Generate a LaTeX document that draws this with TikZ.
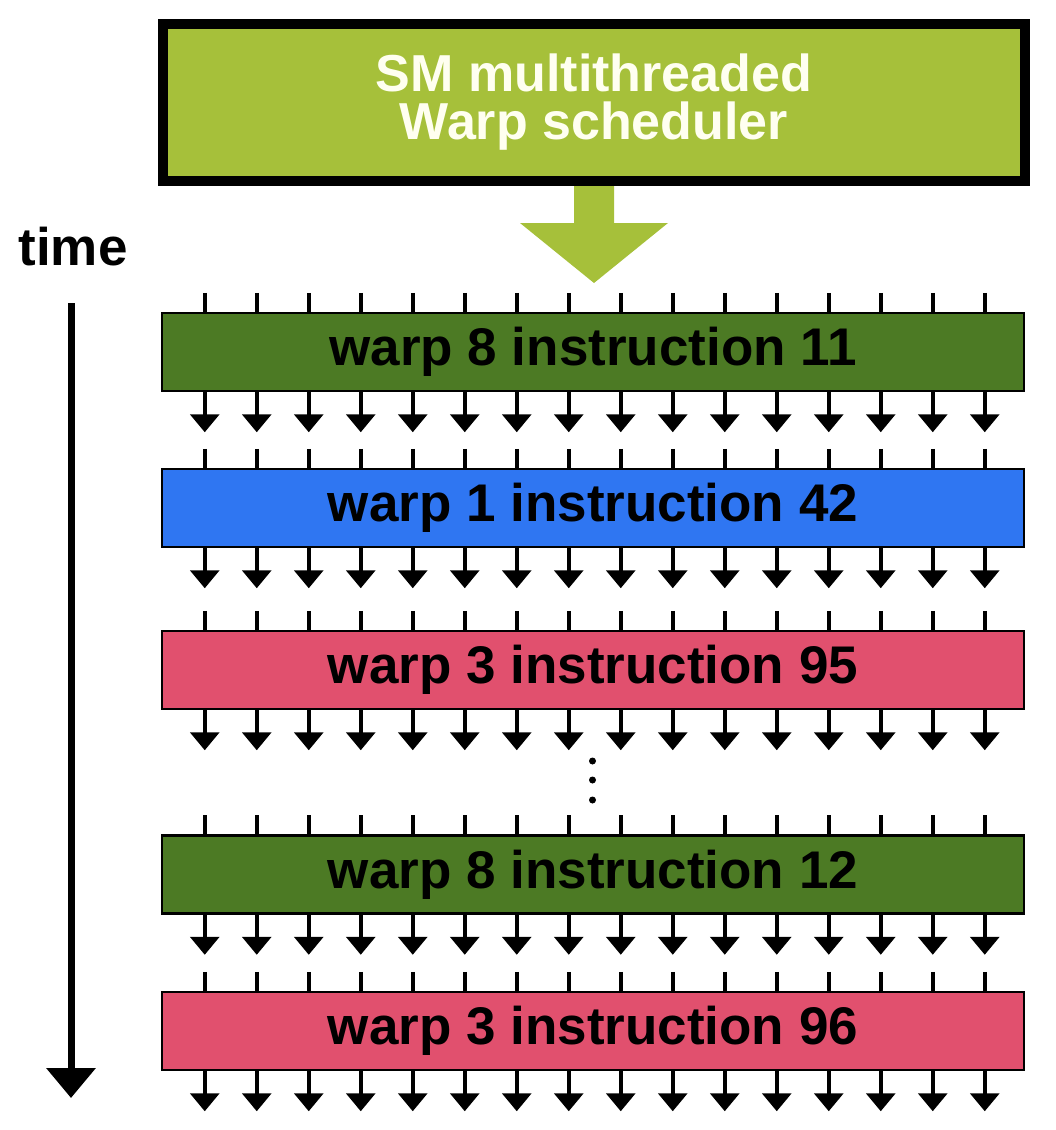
\documentclass[tikz,border=0pt]{standalone}
\usepackage{fontspec}
\setmainfont{Liberation Sans}
\usetikzlibrary{arrows.meta,calc}
\definecolor{topgreen}{RGB}{166,192,58}
\definecolor{dkgreen}{RGB}{76,122,36}
\definecolor{barblue}{RGB}{47,118,242}
\definecolor{barpink}{RGB}{225,80,110}
\definecolor{cream}{RGB}{255,255,240}
\begin{document}
\begin{tikzpicture}[x=1pt,y=-1pt,
  bar/.style={draw=black, line width=2.5pt, minimum width=862pt, minimum height=78pt, inner sep=0pt, font=\fontsize{53}{53}\selectfont\bfseries, text=black},
  tickln/.style={line width=3.5pt},
  tickarr/.style={line width=3.5pt, -{Triangle[width=29pt,length=18pt]}},
  dotnode/.style={circle, fill=black, inner sep=0pt, minimum size=7pt},
]
\useasboundingbox (0,0) rectangle (1056,1130);
\node[draw=black, line width=10pt, fill=topgreen, minimum width=862pt, minimum height=157pt, align=center, text=cream, font=\fontsize{52}{48}\selectfont\bfseries] (top) at (594,102.5) {SM multithreaded\\Warp scheduler};
% block arrow
\fill[topgreen] ($(top.south)+(-20,0)$) -- ($(top.south)+(20,0)$) -- ($(top.south)+(20,37)$) -- ($(top.south)+(74,37)$) -- ($(top.south)+(0,97)$) -- ($(top.south)+(-74,37)$) -- ($(top.south)+(-20,37)$) -- cycle;
\node[bar, fill=dkgreen] (b1) at (593,352) {warp 8 instruction 11};
\node[bar, fill=barblue] (b2) at (593,508) {warp 1 instruction 42};
\node[bar, fill=barpink] (b3) at (593,670) {warp 3 instruction 95};
\node[bar, fill=dkgreen] (b4) at (593,874.5) {warp 8 instruction 12};
\node[bar, fill=barpink] (b5) at (593,1031) {warp 3 instruction 96};
\foreach \b in {b1,b2,b3,b4,b5}{
  \foreach \i in {0,...,15}{
    \draw[tickln] ($(\b.north west)+(44+52*\i,-19)$) -- ($(\b.north west)+(44+52*\i,0)$);
    \draw[tickarr] ($(\b.south west)+(44+52*\i,0)$) -- ($(\b.south west)+(44+52*\i,40)$);
  }
}
\node[dotnode] (d1) at (592.5,761) {};
\node[dotnode] (d2) at (592.5,780) {};
\node[dotnode] (d3) at (592.5,800) {};
\node[font=\fontsize{53}{53}\selectfont\bfseries, anchor=base, inner sep=0pt] (time) at (73,265) {time};
\coordinate (tstart) at (71,303);
\coordinate (tend) at (71,1098);
\draw[line width=7pt, -{Triangle[width=48pt,length=30pt]}] (tstart) -- (tend);
\end{tikzpicture}
\end{document}
